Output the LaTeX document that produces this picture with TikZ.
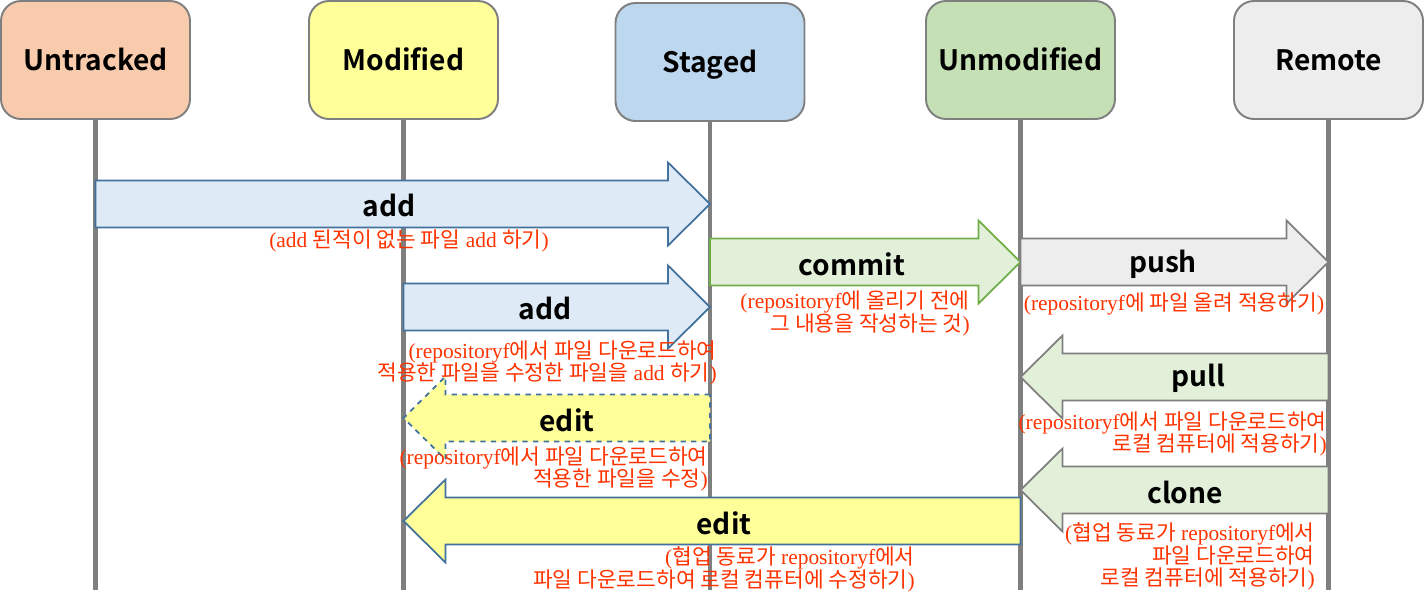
\documentclass[tikz,border=0pt]{standalone}
\usepackage{fontspec}
\setmainfont{Liberation Serif}
\newfontfamily\krfont{Noto Sans CJK KR}
\newfontfamily\labelfont{Noto Sans CJK KR}[BoldFont={* Bold}]
\usetikzlibrary{calc}

\definecolor{linegray}{HTML}{7F7F7F}
\definecolor{peach}{HTML}{F8CBAD}
\definecolor{lightyellow}{HTML}{FFFF99}
\definecolor{lightblue}{HTML}{BDD7EE}
\definecolor{lightgreen}{HTML}{C5E0B4}
\definecolor{lightgray}{HTML}{EDEDED}
\definecolor{addfill}{HTML}{DEEBF7}
\definecolor{addline}{HTML}{41719C}
\definecolor{commitfill}{HTML}{E2F0D9}
\definecolor{commitline}{HTML}{70AD47}
\definecolor{notered}{HTML}{FF3300}

\newcommand{\kr}[1]{{\krfont #1}}

% block arrow from (#2) to its tip at (#3)
\newcommand{\blockarrow}[3][]{%
  \filldraw[line width=1pt, #1] let \p1=(#2), \p2=(#3), \n1={sign(\x2-\x1)} in
    (\x1,\y1+0.47cm) -- (\x2-\n1*0.84cm,\y1+0.47cm) -- (\x2-\n1*0.84cm,\y1+0.83cm)
    -- (\x2,\y2) -- (\x2-\n1*0.84cm,\y1-0.83cm) -- (\x2-\n1*0.84cm,\y1-0.47cm)
    -- (\x1,\y1-0.47cm) -- cycle;}

\tikzset{
  state/.style={draw=linegray, line width=1.1pt, rounded corners=0.4cm,
    minimum width=3.78cm, minimum height=2.36cm, text height=12.4pt, text depth=0pt,
    font=\labelfont\bfseries\fontsize{16}{18}\selectfont},
  lifeline/.style={draw=linegray, line width=2.5pt},
  lbl/.style={font=\labelfont\bfseries\fontsize{16}{18}\selectfont, inner sep=0pt},
  note/.style={text=notered, align=right, inner sep=0pt,
    font=\fontsize{12.2}{13}\selectfont},
  addarrow/.style={fill=addfill, draw=addline},
  editarrow/.style={fill=lightyellow, draw=addline},
  commitarrow/.style={fill=commitfill, draw=commitline},
  pusharrow/.style={fill=lightgray, draw=linegray},
  pullarrow/.style={fill=commitfill, draw=linegray}
}

\begin{document}
\begin{tikzpicture}
\useasboundingbox (0,0) rectangle (28.48,-11.94);

% states
\node[state, fill=peach] (untracked) at (1.91,-1.2) {Untracked};
\node[state, fill=lightyellow] (modified) at (8.07,-1.2) {Modified};
\node[state, fill=lightblue] (staged) at (14.2,-1.24) {Staged};
\node[state, fill=lightgreen] (unmodified) at (20.41,-1.2) {Unmodified};
\node[state, fill=lightgray] (remote) at (26.57,-1.2) {Remote};

% lifelines
\coordinate (bottom) at (0,-11.8);
\foreach \s in {untracked, modified, staged, unmodified, remote}
  \draw[lifeline] (\s.south) -- (\s.south |- bottom);

% arrow ends on the lifelines
\coordinate (add1s) at (untracked.south |- 0,-4.08);
\coordinate (add1t) at (staged.south |- 0,-4.08);
\coordinate (commits) at (staged.south |- 0,-5.24);
\coordinate (committ) at (unmodified.south |- 0,-5.24);
\coordinate (pushs) at (unmodified.south |- 0,-5.24);
\coordinate (pusht) at (remote.south |- 0,-5.24);
\coordinate (add2s) at (modified.south |- 0,-6.14);
\coordinate (add2t) at (staged.south |- 0,-6.14);
\coordinate (pulls) at (remote.south |- 0,-7.54);
\coordinate (pullt) at (unmodified.south |- 0,-7.54);
\coordinate (edit1s) at (staged.south |- 0,-8.36);
\coordinate (edit1t) at (modified.south |- 0,-8.36);
\coordinate (clones) at (remote.south |- 0,-9.8);
\coordinate (clonet) at (unmodified.south |- 0,-9.8);
\coordinate (edit2s) at (unmodified.south |- 0,-10.42);
\coordinate (edit2t) at (modified.south |- 0,-10.42);

\blockarrow[addarrow]{add1s}{add1t}
\blockarrow[commitarrow]{commits}{committ}
\blockarrow[pusharrow]{pushs}{pusht}
\blockarrow[addarrow]{add2s}{add2t}
\blockarrow[pullarrow]{pulls}{pullt}
\blockarrow[editarrow, dashed]{edit1s}{edit1t}
\blockarrow[pullarrow]{clones}{clonet}
\blockarrow[editarrow]{edit2s}{edit2t}

% labels
\node[lbl] (add1) at (7.78,-4.1) {add};
\node[lbl] (commit) at (17.04,-5.28) {commit};
\node[lbl] (push) at (23.26,-5.28) {push};
\node[lbl] (add2) at (10.9,-6.16) {add};
\node[lbl] (pull) at (23.96,-7.56) {pull};
\node[lbl] (edit1) at (11.34,-8.4) {edit};
\node[lbl] (clone) at (23.7,-9.84) {clone};
\node[lbl] (edit2) at (14.48,-10.46) {edit};

% notes
\node[note, anchor=north] (add1note) at (8.18,-4.58)
  {(add \kr{된적이 없는 파일} add \kr{하기})};
\node[note, anchor=north east] (commitnote) at (19.4,-5.81)
  {(repositoryf\kr{에 올리기 전에}\\ \kr{그 내용을 작성하는 것})};
\node[note, anchor=north] (pushnote) at (23.48,-5.85)
  {(repositoryf\kr{에 파일 올려 적용하기})};
\node[note, anchor=north east] (add2note) at (14.34,-6.8)
  {(repositoryf\kr{에서 파일 다운로드하여}\\ \kr{적용한 파일을 수정한 파일을} add \kr{하기})};
\node[note, anchor=north east] (pullnote) at (26.54,-8.22)
  {(repositoryf\kr{에서 파일 다운로드하여}\\ \kr{로컬 컴퓨터에 적용하기})};
\node[note, anchor=north east] (edit1note) at (14.16,-8.92)
  {(repositoryf\kr{에서 파일 다운로드하여}\\ \kr{적용한 파일을 수정})};
\node[note, anchor=north east] (clonenote) at (26.3,-10.44)
  {(\kr{협업 동료가} repositoryf\kr{에서}\\ \kr{파일 다운로드하여}\\ \kr{로컬 컴퓨터에 적용하기})};
\node[note, anchor=north east] (edit2note) at (18.3,-10.92)
  {(\kr{협업 동료가} repositoryf\kr{에서}\\ \kr{파일 다운로드하여 로컬 컴퓨터에 수정하기})};
\end{tikzpicture}
\end{document}
